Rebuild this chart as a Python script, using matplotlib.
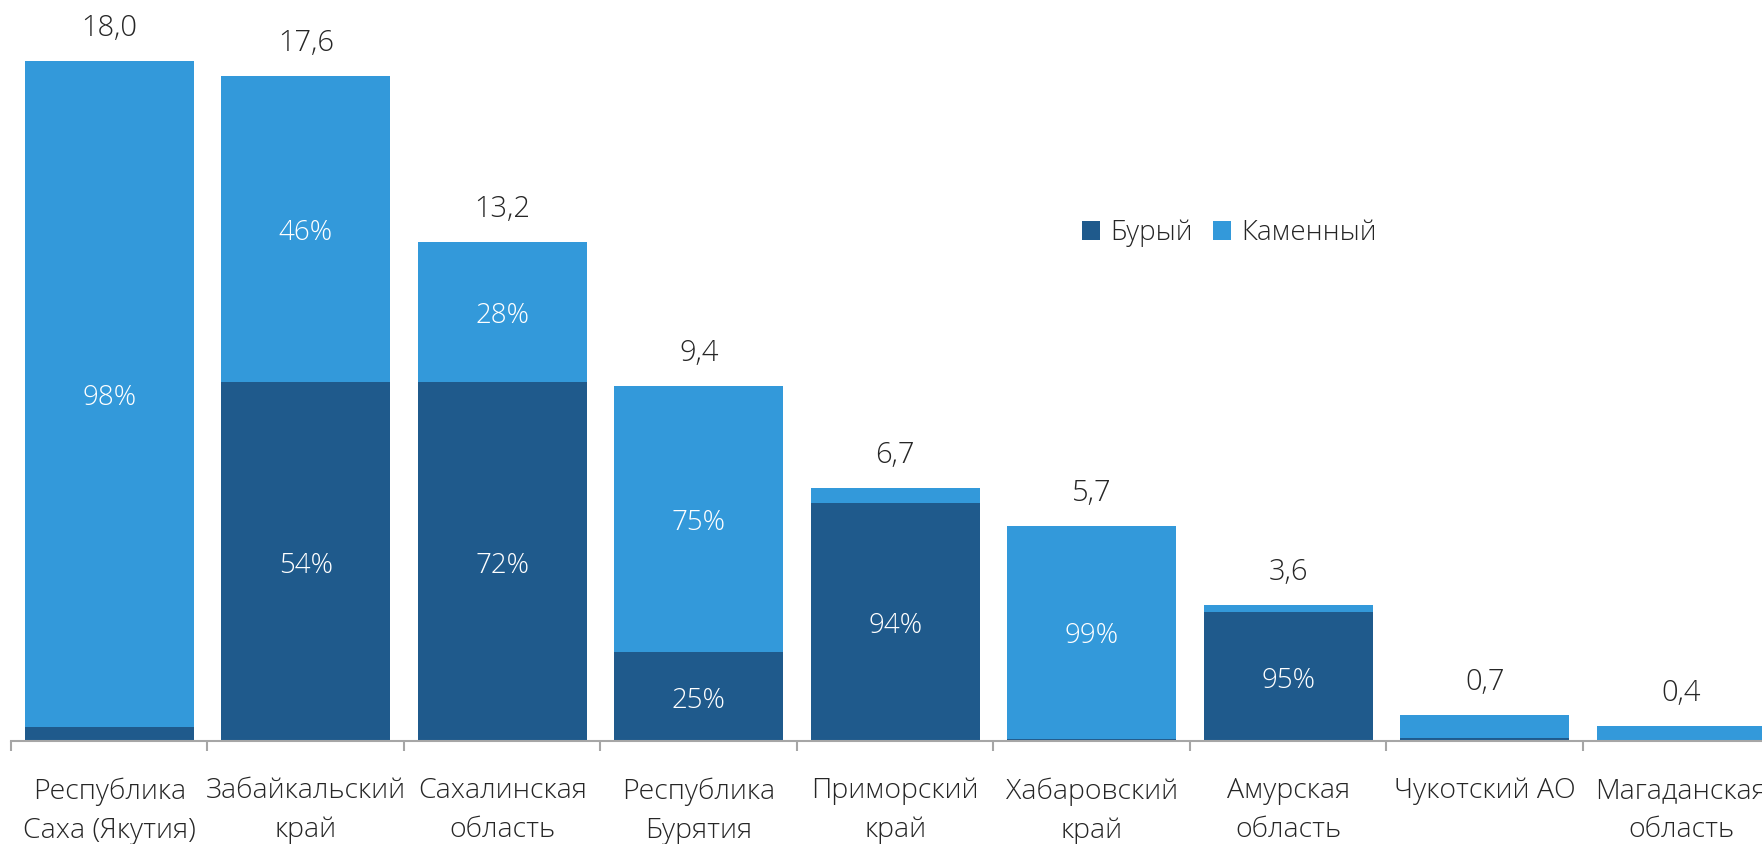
import numpy as np
import matplotlib.pyplot as plt

plt.rcParams['font.family'] = ['Open Sans', 'DejaVu Sans']
plt.rcParams['font.weight'] = 'light'

regions = ['Республика\nСаха (Якутия)', 'Забайкальский\nкрай', 'Сахалинская\nобласть',
           'Республика\nБурятия', 'Приморский\nкрай', 'Хабаровский\nкрай',
           'Амурская\nобласть', 'Чукотский АО', 'Магаданская\nобласть']
totals = [18.0, 17.6, 13.2, 9.4, 6.7, 5.7, 3.6, 0.7, 0.4]
brown_pct = [2, 54, 72, 25, 94, 1, 95, 10, 0]
hard_pct = [98, 46, 28, 75, 6, 99, 5, 90, 100]

dark = '#1f5a8c'
light = '#3399da'
txt = '#262626'

totals = np.array(totals)
brown = totals * np.array(brown_pct) / 100
hard = totals * np.array(hard_pct) / 100
x = np.arange(len(regions))

W, H = 1762, 844
fig = plt.figure(figsize=(W / 100, H / 100), dpi=100)
ax = fig.add_axes([11 / W, (H - 741) / H, 1768.5 / W, 741 / H])

ax.bar(x, brown, width=0.86, color=dark, label='Бурый')
ax.bar(x, hard, width=0.86, bottom=brown, color=light, label='Каменный')

for i in range(len(x)):
    ax.annotate(f'{totals[i]:.1f}'.replace('.', ','), (x[i], totals[i]),
                xytext=(0, 18), textcoords='offset points', ha='center', va='baseline',
                fontsize=21, color=txt)
    if totals[i] >= 1:
        if brown_pct[i] >= 20:
            ax.annotate(f'{brown_pct[i]}%', (x[i], brown[i] / 2), xytext=(0, -3),
                        textcoords='offset points', ha='center', va='center',
                        fontsize=20, color='white')
        if hard_pct[i] >= 20:
            ax.annotate(f'{hard_pct[i]}%', (x[i], brown[i] + hard[i] / 2), xytext=(0, -3),
                        textcoords='offset points', ha='center', va='center',
                        fontsize=20, color='white')

ax.set_xlim(-0.5, 8.5)
ax.set_ylim(0, 741 / 37.8)
for s in ['top', 'right', 'left']:
    ax.spines[s].set_visible(False)
ax.spines['bottom'].set_color('#a6a6a6')
ax.spines['bottom'].set_linewidth(1.5)
ax.set_yticks([])
ax.set_xticks(x)
ax.set_xticklabels(regions, fontsize=20.5, color=txt, linespacing=1.52)
ax.tick_params(axis='x', which='major', length=0, pad=26)
ax.set_xticks(np.arange(-0.5, 9, 1), minor=True)
ax.tick_params(axis='x', which='minor', length=7.5, width=1.5, color='#a6a6a6')

fig.legend(loc='center left', bbox_to_anchor=(1082 / W, 1 - 233 / H), ncol=2, frameon=False,
           fontsize=20, handlelength=0.65, handleheight=0.65, handletextpad=0.36,
           columnspacing=0.75, borderpad=0, borderaxespad=0, labelcolor=txt)

fig.savefig('out.png', dpi=100)
